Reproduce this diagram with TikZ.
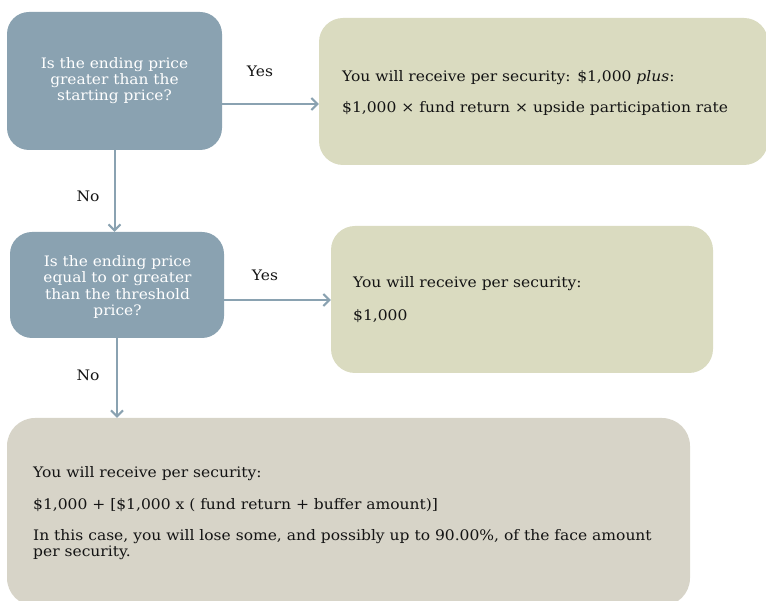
\documentclass[tikz,border=0pt]{standalone}
\usepackage{fontspec}
\setmainfont{DejaVu Serif}[FakeStretch=1.07]
\usetikzlibrary{arrows.meta}
\definecolor{qblue}{HTML}{8AA2B1}
\definecolor{qgreen}{HTML}{DADBC0}
\definecolor{qgray}{HTML}{D7D4C8}
\definecolor{qarrow}{HTML}{8AA2B1}
\definecolor{qtext}{HTML}{141414}
\begin{document}
\begin{tikzpicture}[x=1pt,y=-1pt,
  qbox/.style={rectangle, rounded corners=22pt, fill=qblue, draw=none, inner sep=0pt},
  gbox/.style={rectangle, rounded corners=24pt, fill=qgreen, draw=none, inner sep=0pt},
  ybox/.style={rectangle, rounded corners=28pt, fill=qgray, draw=none, inner sep=0pt},
  wtxt/.style={inner sep=0pt, anchor=base, text=white, font=\fontsize{14.4}{16}\selectfont},
  btxt/.style={inner sep=0pt, anchor=base west, text=qtext, font=\fontsize{14.5}{16}\selectfont},
  lbl/.style={inner sep=0pt, text=qtext, font=\fontsize{14.5}{16}\selectfont},
  arr/.style={draw=qarrow, line width=2pt, -{Straight Barb[length=6pt,width=12pt]}}
]
\useasboundingbox (0,0) rectangle (766,601);

% boxes
\node[qbox, minimum width=215pt, minimum height=138pt] (q1) at (114.5,81) {};
\node[gbox, minimum width=449pt, minimum height=147pt] (r1) at (543.5,91.5) {};
\node[qbox, minimum width=214pt, minimum height=106pt] (q2) at (117,285) {};
\node[gbox, minimum width=382pt, minimum height=147pt] (r2) at (522,299.5) {};
\node[ybox, minimum width=683pt, minimum height=188pt] (r3) at (348.5,512) {};

% question texts
\node[wtxt] (q1a) at (114.5,69) {Is the ending price};
\node[wtxt] (q1b) at (114.5,85) {greater than the};
\node[wtxt] (q1c) at (114.5,101) {starting price?};

\node[wtxt] (q2a) at (117.5,266.5) {Is the ending price};
\node[wtxt] (q2b) at (117.5,283) {equal to or greater};
\node[wtxt] (q2c) at (117.5,299.5) {than the threshold};
\node[wtxt] (q2d) at (117.5,316) {price?};

% result texts
\node[btxt] (r1a) at (342,82) {You will receive per security: \$1,000 \textit{plus}:};
\node[btxt] (r1b) at (342,113) {\$1,000 × fund return × upside participation rate};

\node[btxt] (r2a) at (353,288) {You will receive per security:};
\node[btxt] (r2b) at (353,321) {\$1,000};

\node[btxt] (r3a) at (33,478) {You will receive per security:};
\node[btxt] (r3b) at (33,509) {\$1,000 + [\$1,000 x ( fund return + buffer amount)]};
\node[btxt] (r3c) at (33,540) {In this case, you will lose some, and possibly up to 90.00\%, of the face amount};
\node[btxt] (r3d) at (33,556.5) {per security.};

% connectors
\coordinate (y1) at (0,104);
\coordinate (y2) at (0,300);
\draw[arr] (q1.east |- y1) -- (r1.west |- y1);
\draw[arr] (q1.south) -- (q2.north -| q1.south);
\draw[arr] (q2.east |- y2) -- (r2.west |- y2);
\draw[arr] (q2.south) -- (r3.north -| q2.south);

% labels
\node[lbl] (l1) at (260,71) {Yes};
\node[lbl] (l2) at (88,196) {No};
\node[lbl] (l3) at (265,275) {Yes};
\node[lbl] (l4) at (88,375) {No};
\end{tikzpicture}
\end{document}
